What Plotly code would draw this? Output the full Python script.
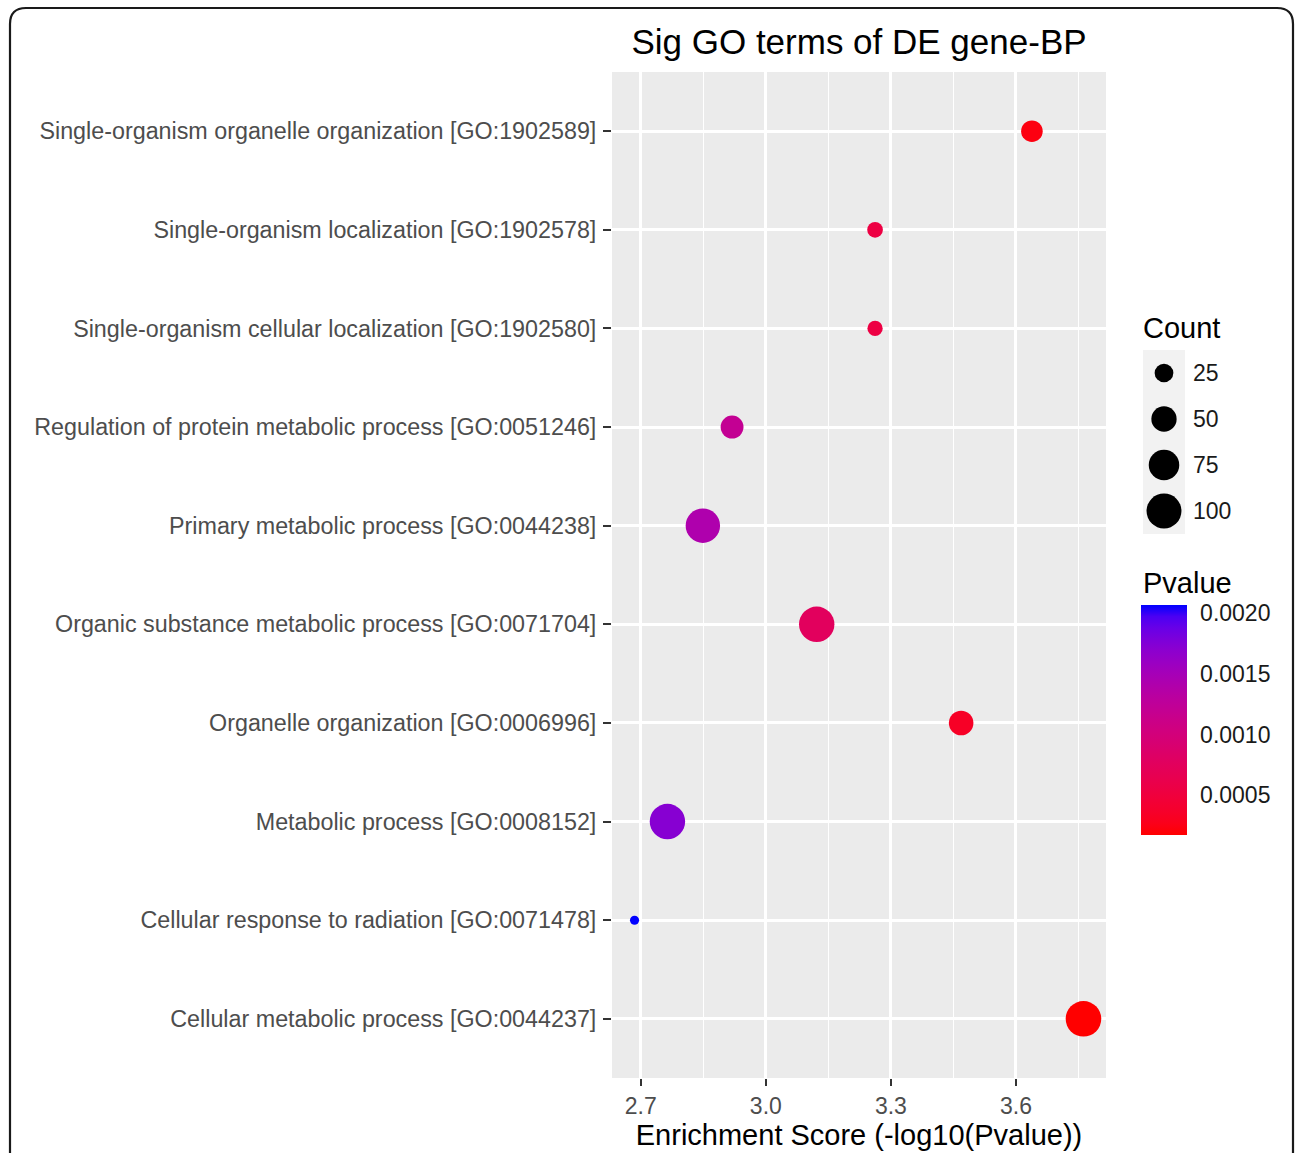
import math
import plotly.graph_objects as go

# ---------------- data ----------------
terms = [
    "Single-organism organelle organization [GO:1902589]",
    "Single-organism localization [GO:1902578]",
    "Single-organism cellular localization [GO:1902580]",
    "Regulation of protein metabolic process [GO:0051246]",
    "Primary metabolic process [GO:0044238]",
    "Organic substance metabolic process [GO:0071704]",
    "Organelle organization [GO:0006996]",
    "Metabolic process [GO:0008152]",
    "Cellular response to radiation [GO:0071478]",
    "Cellular metabolic process [GO:0044237]",
]
pvalues = [0.000230, 0.000547, 0.000547, 0.001205, 0.001416,
           0.000755, 0.000340, 0.001722, 0.002065, 0.000173]
counts = [35, 16, 15, 40, 97, 103, 47, 103, 2, 104]

x_ticks = [2.7, 3.0, 3.3, 3.6]
x_minor = [2.85, 3.15, 3.45, 3.75]
cbar_ticks = [0.0005, 0.0010, 0.0015, 0.0020]
size_breaks = [25, 50, 75, 100]

title_text = "Sig GO terms of DE gene-BP"
xaxis_title = "Enrichment Score (-log10(Pvalue))"

# ---------------- helpers ----------------
W, H = 1295, 1153
ML, MT = 612, 72
PW = W - ML - 10
PH = 1078 - MT
MR, MB = W - ML - PW, H - MT - PH


def px(xs):
    return (xs - ML) / PW


def py(ys):
    return 1 - (ys - MT) / PH


def dot_size(c):
    return math.sqrt(60 + 11.6 * c)


def _lin(c):
    return c / 12.92 if c <= 0.04045 else ((c + 0.055) / 1.055) ** 2.4


def _gam(c):
    c = 12.92 * c if c <= 0.0031308 else 1.055 * c ** (1 / 2.4) - 0.055
    return min(1, max(0, c))


def rgb2lab(rgb):
    r, g, b = [_lin(v / 255) for v in rgb]
    X = (0.4124 * r + 0.3576 * g + 0.1805 * b) / 0.95047
    Y = (0.2126 * r + 0.7152 * g + 0.0722 * b) / 1.0
    Z = (0.0193 * r + 0.1192 * g + 0.9505 * b) / 1.08883
    f = lambda t: t ** (1 / 3) if t > 0.008856 else 7.787 * t + 16 / 116
    fx, fy, fz = f(X), f(Y), f(Z)
    return (116 * fy - 16, 500 * (fx - fy), 200 * (fy - fz))


def lab2rgb(lab):
    L, a, b = lab
    fy = (L + 16) / 116
    fx = fy + a / 500
    fz = fy - b / 200
    finv = lambda t: t ** 3 if t ** 3 > 0.008856 else (t - 16 / 116) / 7.787
    X, Y, Z = finv(fx) * 0.95047, finv(fy), finv(fz) * 1.08883
    r = 3.2406 * X - 1.5372 * Y - 0.4986 * Z
    g = -0.9689 * X + 1.8758 * Y + 0.0415 * Z
    bb = 0.0557 * X - 0.2040 * Y + 1.0570 * Z
    return tuple(int(round(_gam(v) * 255)) for v in (r, g, bb))


lo, hi = rgb2lab((255, 0, 0)), rgb2lab((0, 0, 255))
n = 21
colorscale = []
for i in range(n):
    t = i / (n - 1)
    lab = tuple(lo[k] + (hi[k] - lo[k]) * t for k in range(3))
    r, g, b = lab2rgb(lab)
    colorscale.append([t, f"rgb({r},{g},{b})"])

scores = [-math.log10(p) for p in pvalues]
font = "Liberation Sans, Arial, sans-serif"

fig = go.Figure()

fig.add_trace(go.Scatter(
    x=scores, y=terms, mode="markers",
    marker=dict(
        size=[dot_size(c) for c in counts],
        color=pvalues, colorscale=colorscale,
        cmin=min(pvalues), cmax=max(pvalues),
        line=dict(width=0), opacity=1,
        colorbar=dict(
            x=px(1141), xanchor="left", xpad=0,
            y=py(605), yanchor="top", ypad=0,
            lenmode="pixels", len=230, thickness=46,
            outlinewidth=0,
            tickvals=cbar_ticks,
            ticktext=[f"{v:.4f}" for v in cbar_ticks],
            ticks="outside", ticklen=9, tickcolor="white", tickwidth=1,
            tickfont=dict(family=font, size=23, color="#1a1a1a"),
        ),
    ),
    showlegend=False, xaxis="x", yaxis="y",
))

# size legend (Count)
fig.add_trace(go.Scatter(
    x=[0.5] * len(size_breaks), y=list(range(1, len(size_breaks) + 1)),
    mode="markers",
    marker=dict(size=[dot_size(c) for c in size_breaks], color="#000000",
                opacity=1, line=dict(width=0)),
    showlegend=False, xaxis="x2", yaxis="y2", hoverinfo="skip",
))

shapes = [
    dict(type="rect", xref="x2 domain", yref="y2 domain", x0=0, x1=1, y0=0, y1=1,
         fillcolor="#F2F2F2", line=dict(width=0), layer="below"),
]
# rounded frame
L_, T_, R_, B_, rr = 10, 8, 1293, 1170, 16
path = (f"M {px(L_)},{py(B_)} L {px(L_)},{py(T_ + rr)} "
        f"Q {px(L_)},{py(T_)} {px(L_ + rr)},{py(T_)} "
        f"L {px(R_ - rr)},{py(T_)} Q {px(R_)},{py(T_)} {px(R_)},{py(T_ + rr)} "
        f"L {px(R_)},{py(B_)}")
shapes.append(dict(type="path", xref="paper", yref="paper", path=path,
                   line=dict(color="#1a1a1a", width=2.2)))

annotations = [
    dict(text="Count", x=px(1141), y=py(328), xref="paper", yref="paper",
         xanchor="left", yanchor="middle", showarrow=False,
         font=dict(family=font, size=29, color="black")),
    dict(text="Pvalue", x=px(1141), y=py(583), xref="paper", yref="paper",
         xanchor="left", yanchor="middle", showarrow=False,
         font=dict(family=font, size=29, color="black")),
]
for i, c in enumerate(size_breaks):
    annotations.append(dict(text=str(c), x=px(1191), y=i + 1, xref="paper", yref="y2",
                            xanchor="left", yanchor="middle", showarrow=False,
                            font=dict(family=font, size=23, color="#1a1a1a")))

fig.update_layout(
    width=W, height=H,
    margin=dict(l=ML, r=MR, t=MT, b=MB, autoexpand=False),
    paper_bgcolor="white", plot_bgcolor="#EBEBEB",
    title=dict(text=title_text, x=px(859), xref="paper", xanchor="center",
               y=1 - 42 / H, yref="container", yanchor="middle",
               font=dict(family=font, size=35, color="black")),
    xaxis=dict(
        domain=[0, px(1106)], range=[2.631, 3.816],
        tickvals=x_ticks, ticktext=[f"{v:.1f}" for v in x_ticks],
        ticks="outside", ticklen=7, tickwidth=1.5, tickcolor="#333333",
        tickfont=dict(family=font, size=23, color="#4D4D4D"),
        showgrid=True, gridcolor="white", gridwidth=2.5,
        minor=dict(tickvals=x_minor, showgrid=True, gridcolor="white", gridwidth=1.2, ticks=""),
        zeroline=False, showline=False,
        title=dict(text=xaxis_title, standoff=4,
                   font=dict(family=font, size=29, color="black")),
        fixedrange=True,
    ),
    yaxis=dict(
        domain=[0, 1], type="category",
        categoryorder="array", categoryarray=terms[::-1],
        range=[-0.6, len(terms) - 0.4],
        ticks="outside", ticklen=8, tickwidth=1.5, tickcolor="#333333",
        tickfont=dict(family=font, size=23.3, color="#4D4D4D"),
        ticklabelstandoff=2,
        showgrid=True, gridcolor="white", gridwidth=2.5,
        zeroline=False, showline=False, fixedrange=True,
    ),
    xaxis2=dict(domain=[px(1143), px(1185)], range=[0, 1], anchor="y2",
                visible=False, fixedrange=True),
    yaxis2=dict(domain=[py(534), py(350)], range=[4.5, 0.5], anchor="x2",
                visible=False, fixedrange=True),
    shapes=shapes,
    annotations=annotations,
)

fig.write_html(
    "out.html",
    config={"displayModeBar": False},
    post_script="document.body.style.margin='0';document.body.style.overflow='hidden';",
)
